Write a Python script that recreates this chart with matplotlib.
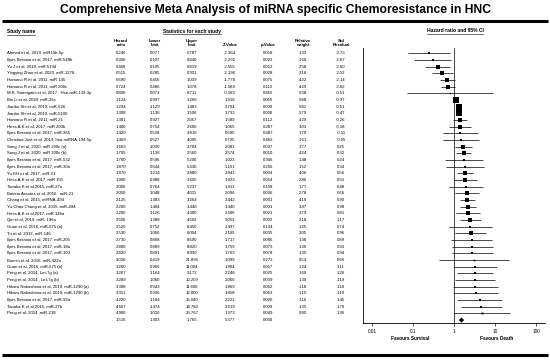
import matplotlib
matplotlib.use("Agg")
import matplotlib.pyplot as plt
import numpy as np

plt.rcParams['font.family'] = ['Liberation Sans', 'DejaVu Sans']

studies = [
    "Ahmed et al, 2019, miR15b-5p",
    "Ilyes Berania et al, 2017, miR-548b",
    "Yu J et al, 2019, miR 519d",
    "Yingying Zhao et al, 2020, miR-1278",
    "Hamano R et al, 2011, miR 145",
    "Hamano R et al, 2011, miR 200c",
    "M.K. Samrigaini et al, 2017,  Hsa-miR-139-3p",
    "Bin Li et al, 2020, miR-26c",
    "Jianbo Shi et al, 2019, miR-626",
    "Jianbo Shi et al, 2019, miR-5100",
    "Hamano R et al, 2011, miR 21",
    "Hess A.K et al, 2017, miR 200b",
    "Ilyes Berania et al, 2017, miR-365",
    "Christina Just et al, 2019, hsa-miRNA-194-5p",
    "Song J et al, 2020, miR 200c (a)",
    "Song J et al, 2020, miR 200c (b)",
    "Ilyes Berania et al, 2017, miR-532",
    "Ilyes Berania et al, 2017, miR-30a",
    "Yu EH et al, 2017, miR 21",
    "Hess A.K et al, 2017, miR 155",
    "Tanaka K et al,2015, miR-27a",
    "Batista Arantes et al, 2016,  miR-21",
    "Chang et al, 2015, miRNA-494",
    "Yu-Chao Chang et al, 2015, miR-494",
    "Hess A.K et al,2017, miR 146a",
    "Qin et al, 2019, miR- 196a",
    "Guan et al, 2016, miR-675 (a)",
    "Tu et al, 2012, miR-146",
    "Ilyes Berania et al, 2017, miR-205",
    "Ilyes Berania et al, 2017, miR-18a",
    "Ilyes Berania et al, 2017, miR-103",
    "Bonnin et al, 2016, miR-422a",
    "Guan et al, 2016, miR-675 (b)",
    "Peng et al, 2014, Let-7g (a)",
    "Peng et al, 2014 , Let-7g (b)",
    "Hikaru Nakashima et al, 2019, miR-1290 (a)",
    "Hikaru Nakashima et al, 2019, miR-1290 (b)",
    "Ilyes Berania et al, 2017, miR-92a",
    "Tanaka K et al,2015, miR-27b",
    "Peng et al, 2014 ,miR-218",
]
hazard = [0.246, 0.300, 0.400, 0.515, 0.690, 0.724, 0.800, 1.124, 1.294, 1.308,
          1.381, 1.400, 1.420, 1.469, 1.669, 1.705, 1.760, 1.870, 1.870, 1.900,
          2.000, 2.050, 2.125, 2.200, 2.200, 2.500, 2.520, 2.530, 2.730, 2.800,
          2.820, 3.030, 3.260, 3.267, 3.289, 3.308, 3.351, 4.220, 4.667, 4.900]
lower = [0.077, 0.107, 0.195, 0.285, 0.456, 0.486, 0.073, 0.997, 1.129, 1.136,
         0.927, 0.754, 0.528, 0.527, 1.030, 1.136, 0.596, 0.644, 1.214, 0.988,
         0.764, 1.048, 1.383, 1.404, 1.126, 1.388, 0.752, 1.066, 0.868, 0.889,
         0.891, 0.419, 0.966, 1.164, 1.060, 0.943, 0.936, 1.184, 1.474, 1.010]
upper = [0.787, 0.840, 0.819, 0.931, 1.039, 1.078, 8.711, 1.266, 1.483, 1.506,
         2.057, 2.600, 3.816, 4.095, 2.704, 2.560, 5.200, 5.430, 2.880, 3.655,
         5.237, 4.011, 3.264, 3.448, 4.300, 4.502, 8.450, 6.004, 8.590, 8.820,
         8.930, 21.895, 11.004, 9.172, 10.209, 11.600, 12.000, 15.040, 14.780, 23.767]
zval = [-2.364, -2.292, -2.505, -2.196, -1.778, -1.589, -0.183, 1.918, 3.704, 3.733,
        1.589, 1.065, 0.695, 0.735, 2.081, 2.574, 1.023, 1.151, 2.841, 1.923,
        1.411, 2.096, 3.442, 3.440, 2.306, 3.053, 1.497, 2.105, 1.717, 1.759,
        1.763, 1.099, 1.904, 2.248, 2.060, 1.869, 1.858, 2.221, 2.619, 1.973]
pval = [0.018, 0.022, 0.012, 0.028, 0.075, 0.112, 0.855, 0.055, 0.000, 0.000,
        0.112, 0.287, 0.487, 0.462, 0.037, 0.010, 0.306, 0.250, 0.004, 0.054,
        0.158, 0.036, 0.001, 0.001, 0.021, 0.002, 0.134, 0.035, 0.086, 0.079,
        0.078, 0.272, 0.057, 0.025, 0.039, 0.062, 0.063, 0.026, 0.009, 0.049]
weight = [1.33, 1.60, 2.58, 3.16, 4.22, 4.29, 0.38, 5.88, 5.81, 5.79,
          4.29, 3.03, 1.70, 1.61, 3.77, 4.24, 1.48, 1.52, 4.06, 2.86,
          1.77, 2.78, 4.10, 3.97, 2.79, 3.18, 1.25, 2.05, 1.36, 1.36,
          1.35, 0.54, 1.24, 1.60, 1.39, 1.18, 1.15, 1.16, 1.35, 0.80]
resid = [-2.73, -2.67, -2.60, -2.52, -2.14, -2.02, -0.51, -0.97, -0.51, -0.47,
         -0.26, -0.18, -0.11, -0.05, 0.25, 0.32, 0.24, 0.34, 0.56, 0.50,
         0.48, 0.66, 0.90, 0.98, 0.81, 1.17, 0.74, 0.96, 0.89, 0.93,
         0.94, 0.66, 1.11, 1.26, 1.19, 1.10, 1.10, 1.45, 1.70, 1.36]
summary = {"hr": 1.516, "lo": 1.303, "hi": 1.765, "z": 5.377, "p": 0.000}
xticks = [0.01, 0.1, 1, 10, 100]
xtick_labels = ["0.01", "0.1", "1", "10", "100"]

W, H = 550, 363
fig = plt.figure(figsize=(W / 100, H / 100), dpi=100)
bg = fig.add_axes([0, 0, 1, 1])
bg.set_xlim(0, W)
bg.set_ylim(H, 0)
bg.axis("off")

row0, step = 53.3, 6.67
fs = 3.1

bg.text(276, 10, "Comprehensive Meta Analysis of miRNA specific Chemoresistance in HNC",
        ha="center", va="center", fontsize=8.7, fontweight="bold")
bg.plot([2, 548], [21, 21], color="black", lw=2.2, solid_capstyle="butt")
bg.plot([2, 548], [355, 355], color="black", lw=2.2, solid_capstyle="butt")

underline_texts = []
underline_texts.append(bg.text(7, 31.5, "Study name", ha="left", va="center", fontsize=3.6, fontweight="bold"))
underline_texts.append(bg.text(192, 31, "Statistics for each study", ha="center", va="center", fontsize=3.6, fontweight="bold"))
underline_texts.append(bg.text(455, 31, "Hazard ratio and 95% CI", ha="center", va="center", fontsize=3.6, fontweight="bold"))

cols = [121, 155, 192, 230, 268, 303, 341]
heads = ["Hazard\nratio", "Lower\nlimit", "Upper\nlimit", "Z-Value", "p-Value", "Relative\nweight", "Std\nResidual"]
for cx, h in zip(cols, heads):
    yy = 43 if "\n" in h else 45
    bg.text(cx, yy, h, ha="center", va="center", fontsize=fs, fontweight="bold", linespacing=1.1)

for i, s in enumerate(studies):
    y = row0 + i * step
    bg.text(7, y, s, ha="left", va="center", fontsize=fs)
    vals = [f"{hazard[i]:.3f}", f"{lower[i]:.3f}", f"{upper[i]:.3f}", f"{zval[i]:.3f}",
            f"{pval[i]:.3f}", f"{weight[i]:.2f}", f"{resid[i]:.2f}"]
    for cx, v in zip(cols, vals):
        bg.text(cx, y, v, ha="center", va="center", fontsize=fs)
ys = row0 + len(studies) * step
svals = [f"{summary['hr']:.3f}", f"{summary['lo']:.3f}", f"{summary['hi']:.3f}",
         f"{summary['z']:.3f}", f"{summary['p']:.3f}"]
for cx, v in zip(cols[:5], svals):
    bg.text(cx, ys, v, ha="center", va="center", fontsize=fs)

# forest axes
ax_l, ax_r, ax_t, ax_b = 363, 545, 48, 323
ax = fig.add_axes([ax_l / W, 1 - ax_b / H, (ax_r - ax_l) / W, (ax_b - ax_t) / H])
ax.set_xscale("log")
center_px, decade_px = 454, 41
ax.set_xlim(10 ** ((ax_l - center_px) / decade_px), 10 ** ((ax_r - center_px) / decade_px))
ax.set_ylim((ax_b - row0) / step, (ax_t - row0) / step)
ax.patch.set_alpha(0)
for sp in ["top", "right"]:
    ax.spines[sp].set_visible(False)
ax.spines["left"].set_linewidth(0.6)
ax.spines["bottom"].set_linewidth(0.6)
ax.set_yticks([])
ax.set_xticks(xticks)
ax.set_xticklabels(xtick_labels, fontsize=3.4)
ax.xaxis.set_minor_locator(matplotlib.ticker.NullLocator())
ax.tick_params(axis="x", length=2, width=0.5, pad=2)
ax.axvline(1, color="black", lw=0.5)

idx = np.arange(len(studies))
ax.hlines(idx, lower, upper, color="black", lw=0.5)
for i in idx:
    ax.plot(hazard[i], i, marker="s", color="black", ms=1.55 * np.sqrt(weight[i]), mew=0)
k = len(studies)
ax.fill([summary["lo"], summary["hr"], summary["hi"], summary["hr"]],
        [k, k - 0.38, k, k + 0.38], color="black", lw=0)

bg.text(410, 338, "Favours Survival", ha="center", va="center", fontsize=3.4, fontweight="bold")
bg.text(497, 338, "Favours Death", ha="center", va="center", fontsize=3.4, fontweight="bold")

fig.canvas.draw()
r = fig.canvas.get_renderer()
inv = bg.transData.inverted()
for t in underline_texts:
    bb = t.get_window_extent(r)
    (x0, y0), (x1, y1) = inv.transform([[bb.x0, bb.y0], [bb.x1, bb.y1]])
    bg.plot([x0, x1], [y0 + 0.6, y0 + 0.6], color="black", lw=0.4)

fig.savefig("out.png", dpi=100)
